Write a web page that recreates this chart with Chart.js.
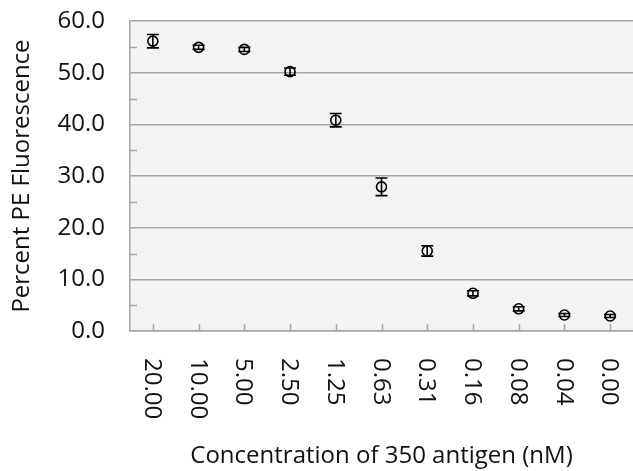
<!DOCTYPE html>
<html><head><meta charset="utf-8">
<script src="https://cdn.jsdelivr.net/npm/chart.js@4"></script>
<style>html,body{margin:0;padding:0;background:#fff}#w{width:633px;height:471px}</style>
</head><body><div id="w"><canvas id="c"></canvas></div>
<script>
const categories = ["20.00","10.00","5.00","2.50","1.25","0.63","0.31","0.16","0.08","0.04","0.00"];
const percentPE = [56.1, 54.9, 54.5, 50.2, 40.8, 27.9, 15.5, 7.3, 4.3, 3.1, 2.9];
const errorPE = [1.3, 0.4, 0.4, 0.7, 1.3, 1.7, 1.0, 0.5, 0.4, 0.3, 0.3];
const yTicks = [0, 10, 20, 30, 40, 50, 60];

const FONT = "'Open Sans', 'Noto Sans', sans-serif";
const GRID = '#a6a6a6';

const bgPlugin = {
  id: 'bg',
  beforeDraw(chart) {
    const {ctx, chartArea: a} = chart;
    ctx.save();
    ctx.fillStyle = '#f3f3f3';
    ctx.fillRect(a.left, a.top, a.right - a.left, a.bottom - a.top);
    ctx.restore();
  }
};

const extrasPlugin = {
  id: 'extras',
  afterDatasetsDraw(chart) {
    const {ctx, chartArea: a, scales: {x, y}} = chart;
    ctx.save();
    ctx.strokeStyle = GRID; ctx.lineWidth = 1.5;
    for (let i = 0; i < yTicks.length - 1; i++) {
      const v = (yTicks[i] + yTicks[i + 1]) / 2;
      const py = Math.round(y.getPixelForValue(v)) + 0.5;
      ctx.beginPath(); ctx.moveTo(a.left, py); ctx.lineTo(a.left + 7, py); ctx.stroke();
    }
    categories.forEach((c, i) => {
      const px = Math.round(x.getPixelForValue(i)) + 0.5;
      ctx.beginPath(); ctx.moveTo(px, a.bottom); ctx.lineTo(px, a.bottom - 7); ctx.stroke();
    });
    ctx.strokeStyle = '#000'; ctx.lineWidth = 1.6;
    percentPE.forEach((v, i) => {
      const px = x.getPixelForValue(i);
      const top = y.getPixelForValue(v + errorPE[i]);
      const bot = y.getPixelForValue(v - errorPE[i]);
      ctx.beginPath();
      ctx.moveTo(px, top); ctx.lineTo(px, bot);
      ctx.moveTo(px - 6, top); ctx.lineTo(px + 6, top);
      ctx.moveTo(px - 6, bot); ctx.lineTo(px + 6, bot);
      ctx.stroke();
    });
    ctx.fillStyle = '#111';
    ctx.font = "24px " + FONT;
    ctx.textAlign = 'left'; ctx.textBaseline = 'middle';
    categories.forEach((c, i) => {
      const px = x.getPixelForValue(i);
      ctx.save();
      ctx.translate(px - 1, a.bottom + 27);
      ctx.rotate(Math.PI / 2);
      ctx.fillText(c, 0, 0);
      ctx.restore();
    });
    ctx.restore();
  }
};

new Chart(document.getElementById('c'), {
  type: 'line',
  data: {
    labels: categories,
    datasets: [{
      data: percentPE,
      showLine: false,
      pointStyle: 'circle',
      pointRadius: 5,
      pointHoverRadius: 5,
      pointBorderWidth: 1.6,
      pointBorderColor: '#000',
      pointBackgroundColor: 'rgba(0,0,0,0)'
    }]
  },
  options: {
    responsive: true,
    maintainAspectRatio: false,
    animation: false,
    events: [],
    layout: {autoPadding: false, padding: {left: 0, right: 0, top: 21, bottom: 0}},
    plugins: {legend: {display: false}, tooltip: {enabled: false}},
    scales: {
      x: {
        type: 'category',
        offset: true,
        grid: {display: false, drawTicks: false},
        border: {display: true, color: GRID, width: 1.5},
        ticks: {display: false},
        title: {display: true, text: 'Concentration of 350 antigen (nM)', color: '#111',
                font: {family: FONT, size: 24}, padding: {top: 0, bottom: 0}},
        afterFit(s) { s.height = 140; s.paddingLeft = 0; s.paddingRight = 0; }
      },
      y: {
        min: 0, max: 60,
        afterBuildTicks(s) { s.ticks = yTicks.map(v => ({value: v})); },
        grid: {color: GRID, lineWidth: 1.5, drawTicks: false},
        border: {display: true, color: GRID, width: 1.5},
        ticks: {color: '#111', font: {family: FONT, size: 24}, padding: 25,
                callback: v => Number(v).toFixed(1)},
        title: {display: true, text: 'Percent PE Fluorescence', color: '#111',
                font: {family: FONT, size: 24}, padding: {top: 8, bottom: 0}},
        afterFit(s) { s.width = 130; s.paddingTop = 0; s.paddingBottom = 0; }
      }
    }
  },
  plugins: [bgPlugin, extrasPlugin]
});
</script>
</body></html>
